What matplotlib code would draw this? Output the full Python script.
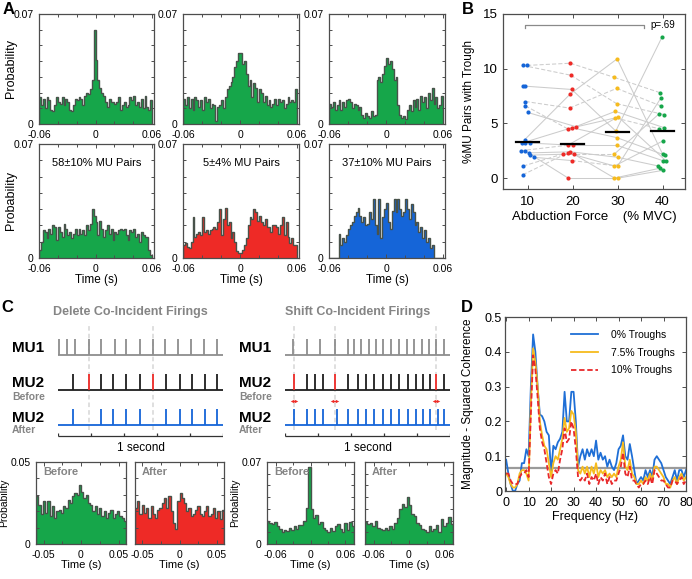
import matplotlib.pyplot as plt
import numpy as np

plt.rcParams['font.family'] = ['Liberation Sans', 'DejaVu Sans']
plt.rcParams['axes.unicode_minus'] = False

# ---------------- data ----------------
# panel A: cross-correlation histograms, probability x 1e-3, 60 bins over -0.06..0.06 s
a_top1 = [17, 12, 16, 10, 17, 15, 9, 8, 12, 17, 14, 13, 17, 12, 16, 14, 9, 8, 12, 16,
          15, 17, 16, 12, 18, 20, 19, 22, 28, 60, 41, 28, 23, 20, 18, 14, 11, 16, 14, 14,
          13, 14, 17, 9, 12, 14, 11, 12, 17, 15, 18, 12, 14, 11, 16, 10, 18, 11, 9, 15]
a_top2 = [16, 12, 17, 10, 16, 9, 17, 15, 11, 15, 9, 17, 14, 16, 10, 13, 12, 2, 11, 12,
          15, 10, 17, 22, 24, 27, 30, 36, 40, 45, 45, 38, 40, 32, 24, 28, 17, 26, 23, 14,
          22, 20, 14, 18, 12, 15, 11, 13, 16, 12, 16, 14, 15, 10, 13, 17, 14, 15, 14, 22]
a_top3 = [13, 11, 14, 9, 12, 15, 9, 14, 11, 15, 16, 14, 10, 13, 12, 9, 11, 6, 4, 7,
          5, 4, 8, 5, 6, 28, 30, 27, 32, 37, 42, 38, 40, 35, 28, 30, 12, 6, 4, 5,
          3, 9, 12, 8, 15, 11, 16, 9, 18, 14, 17, 10, 20, 15, 23, 13, 17, 10, 12, 18]
a_bot1 = [5, 10, 17, 16, 12, 18, 15, 20, 19, 11, 19, 16, 13, 21, 18, 14, 16, 12, 15, 18,
          14, 18, 15, 17, 14, 20, 17, 21, 30, 26, 22, 14, 23, 18, 13, 17, 20, 15, 18, 11,
          16, 15, 17, 18, 17, 18, 14, 11, 17, 16, 18, 13, 15, 10, 16, 14, 13, 13, 5, 2]
a_bot2 = [8, 9, 7, 6, 10, 25, 13, 15, 16, 14, 25, 16, 17, 15, 17, 18, 19, 18, 22, 30,
          14, 24, 31, 20, 22, 12, 16, 10, 4, 3, 3, 5, 8, 12, 20, 25, 24, 30, 28, 23,
          26, 22, 20, 24, 19, 19, 16, 20, 20, 19, 15, 20, 25, 14, 22, 13, 9, 12, 8, 8]
a_bot3 = [0, 0, 0, 0, 0, 15, 8, 12, 10, 14, 18, 20, 22, 26, 28, 31, 26, 22, 25, 20,
          21, 28, 24, 36, 20, 15, 36, 12, 25, 30, 34, 22, 18, 29, 36, 28, 36, 30, 26, 28,
          36, 30, 24, 33, 28, 20, 22, 16, 19, 12, 17, 10, 12, 6, 8, 0, 0, 0, 0, 0]
a_labels = ['58\u00b110% MU Pairs', '5\u00b14% MU Pairs', '37\u00b110% MU Pairs']

# panel B: % MU pairs with trough per subject, x = abduction force (with jitter)
b_blue_x = [8.9, 9.85, 8.9, 9.5, 9.5, 9.5, 10.0, 9.3, 8.7, 9.5, 10.5, 8.4, 9.3, 10.2, 10.5, 11.3, 9.0, 8.9]
b_blue_y = [10.3, 10.3, 8.4, 8.4, 7.0, 6.6, 6.0, 3.5, 3.2, 3.2, 3.2, 2.5, 2.5, 2.3, 2.1, 1.9, 1.1, 0.3]
b_red_x = [19.5, 19.6, 19.8, 19.5, 19.3, 18.9, 19.8, 20.7, 18.9, 20.0, 17.8, 18.9, 19.5, 20.2, 19.8, 19.0]
b_red_y = [10.5, 9.4, 8.1, 7.7, 6.4, 4.5, 4.6, 4.7, 3.0, 3.0, 2.2, 2.3, 2.4, 2.2, 1.6, 0.0]
b_yel_x = [29.9, 29.3, 29.8, 29.8, 29.5, 30.1, 29.5, 29.6, 29.8, 29.8, 29.3, 30.0, 29.3, 30.0, 29.3, 30.2]
b_yel_y = [10.9, 9.2, 8.2, 6.8, 6.1, 5.6, 5.5, 4.3, 3.7, 3.0, 2.2, 1.9, 1.1, 1.1, 0.0, 0.0]
b_grn_x = [39.9, 39.5, 39.6, 39.6, 39.3, 40.4, 39.3, 40.4, 40.1, 40.0, 40.5, 40.0, 40.7, 39.1, 39.4, 40.0]
b_grn_y = [12.9, 7.8, 7.3, 6.6, 5.9, 5.8, 4.5, 4.6, 3.4, 2.2, 2.1, 1.6, 1.6, 1.1, 0.9, 0.7]
# subject links between neighbouring forces: (index left, index right, dashed?)
b_links_12 = [(0, 1, 1), (1, 0, 1), (3, 2, 0), (4, 4, 1), (5, 5, 1), (6, 7, 0), (7, 3, 0), (8, 6, 0),
              (10, 9, 0), (11, 8, 1), (13, 12, 0), (14, 13, 0), (15, 14, 0), (16, 10, 1), (17, 11, 1), (12, 15, 0)]
b_links_23 = [(0, 1, 1), (1, 3, 1), (2, 7, 0), (3, 0, 0), (4, 2, 1), (5, 6, 0), (6, 8, 0), (7, 4, 0),
              (8, 5, 0), (9, 9, 0), (10, 10, 1), (11, 12, 0), (12, 11, 0), (13, 14, 0), (14, 13, 1), (15, 15, 0)]
b_links_34 = [(0, 9, 0), (1, 1, 1), (2, 3, 1), (3, 5, 1), (4, 7, 0), (5, 12, 0), (6, 6, 1), (7, 0, 0),
              (8, 10, 0), (9, 11, 0), (10, 4, 0), (11, 13, 0), (12, 8, 0), (13, 2, 0), (14, 14, 0), (15, 15, 0)]
b_forces = [10, 20, 30, 40]
b_means = [3.3, 3.1, 4.2, 4.3]
b_pval = 'p=.69'

# panel C: spike trains (times in s within a 1 s window)
del_mu1 = [0.006, 0.055, 0.101, 0.188, 0.263, 0.343, 0.414, 0.495, 0.576, 0.651, 0.727, 0.808, 0.883, 0.964]
del_mu2 = [0.091, 0.188, 0.263, 0.333, 0.41, 0.495, 0.576, 0.657, 0.737, 0.814, 0.889, 0.964]
del_coinc = [0.188, 0.576]
shf_mu1 = [0.051, 0.131, 0.212, 0.3, 0.38, 0.42, 0.461, 0.507, 0.552, 0.592, 0.642, 0.689, 0.737, 0.784,
           0.83, 0.875, 0.915, 0.966]
shf_mu2 = [0.055, 0.131, 0.182, 0.232, 0.3, 0.38, 0.44, 0.491, 0.541, 0.592, 0.642, 0.693, 0.743, 0.794,
           0.838, 0.879, 0.915, 0.966]
shf_coinc = [0.055, 0.3, 0.915]
shf_after = [0.055, 0.135, 0.182, 0.232, 0.313, 0.38, 0.44, 0.491, 0.541, 0.592, 0.642, 0.693, 0.743, 0.794,
             0.838, 0.879, 0.929, 0.966]

# panel C histograms (probability x 1e-3)
c_del_before = [29, 24, 18, 26, 19, 26, 17, 23, 16, 20, 21, 19, 23, 22, 27, 25, 29, 31, 30, 36,
                32, 28, 30, 25, 24, 20, 23, 18, 22, 17, 20, 16, 19, 21, 16, 18, 20, 17, 16, 14]
c_del_after = [22, 26, 18, 24, 19, 22, 16, 23, 18, 16, 21, 22, 25, 28, 22, 29, 20, 13, 9, 26,
               31, 28, 25, 20, 22, 17, 18, 21, 23, 18, 17, 20, 23, 17, 18, 22, 16, 20, 15, 21]
c_shf_before = [20, 18, 17, 19, 15, 13, 10, 12, 11, 14, 12, 15, 13, 16, 16, 20, 31, 66,
                30, 22, 25, 17, 19, 14, 12, 10, 14, 11, 15, 17, 13, 10, 18, 12, 19, 15]
c_shf_after = [19, 17, 18, 15, 20, 14, 13, 12, 14, 12, 15, 13, 18, 22, 30, 34, 32, 40,
               33, 26, 24, 18, 16, 13, 12, 10, 15, 11, 13, 16, 10, 21, 15, 18, 23, 17]

# panel D: magnitude-squared coherence, 0..80 Hz
d_freq = list(range(81))
d_0 = [0.09, 0.05, 0.02, 0.0, 0.0, 0.02, 0.03, 0.08, 0.08, 0.12, 0.1, 0.3, 0.45, 0.4, 0.3, 0.22, 0.215,
       0.2, 0.17, 0.16, 0.05, 0.13, 0.12, 0.14, 0.15, 0.17, 0.285, 0.2, 0.2, 0.285, 0.285, 0.2, 0.07,
       0.1, 0.12, 0.09, 0.12, 0.1, 0.12, 0.1, 0.145, 0.09, 0.11, 0.09, 0.1, 0.07, 0.09, 0.07, 0.06,
       0.08, 0.12, 0.13, 0.16, 0.1, 0.09, 0.135, 0.1, 0.06, 0.02, 0.03, 0.04, 0.03, 0.06, 0.04, 0.06,
       0.04, 0.09, 0.1, 0.09, 0.08, 0.06, 0.04, 0.03, 0.02, 0.04, 0.06, 0.03, 0.06, 0.06, 0.04, 0.06]
d_75 = [0.05, 0.04, 0.02, 0.01, 0.01, 0.02, 0.05, 0.06, 0.06, 0.05, 0.03, 0.25, 0.41, 0.37, 0.3, 0.2,
        0.16, 0.13, 0.12, 0.08, 0.04, 0.08, 0.1, 0.09, 0.12, 0.15, 0.21, 0.17, 0.18, 0.23, 0.22, 0.17,
        0.06, 0.05, 0.07, 0.05, 0.07, 0.04, 0.07, 0.05, 0.08, 0.04, 0.06, 0.05, 0.06, 0.04, 0.05, 0.04,
        0.05, 0.04, 0.07, 0.09, 0.14, 0.07, 0.06, 0.09, 0.05, 0.04, 0.02, 0.02, 0.03, 0.02, 0.04, 0.03,
        0.05, 0.03, 0.07, 0.07, 0.06, 0.05, 0.04, 0.02, 0.02, 0.01, 0.03, 0.04, 0.02, 0.04, 0.05, 0.03, 0.04]
d_10 = [0.05, 0.05, 0.03, 0.02, 0.02, 0.02, 0.04, 0.05, 0.05, 0.06, 0.04, 0.22, 0.39, 0.35, 0.27, 0.18,
        0.14, 0.12, 0.08, 0.04, 0.02, 0.05, 0.06, 0.05, 0.09, 0.12, 0.18, 0.14, 0.15, 0.2, 0.18, 0.12,
        0.04, 0.03, 0.04, 0.03, 0.05, 0.02, 0.04, 0.03, 0.05, 0.02, 0.04, 0.03, 0.05, 0.02, 0.04, 0.02,
        0.03, 0.03, 0.05, 0.07, 0.11, 0.05, 0.04, 0.07, 0.03, 0.03, 0.02, 0.01, 0.02, 0.02, 0.03, 0.02,
        0.04, 0.02, 0.06, 0.05, 0.04, 0.03, 0.03, 0.02, 0.01, 0.01, 0.03, 0.03, 0.02, 0.03, 0.04, 0.02, 0.03]
d_sig = 0.065
d_names = ['0% Troughs', '7.5% Troughs', '10% Troughs']

# ---------------- figure ----------------
GREEN, RED, BLUE, YEL = '#16a64a', '#ee2a26', '#1565d8', '#f6bb1e'
EDGE = '#48524a'
SPINE = '#4d4d4d'
GREYTXT = '#858585'

W, H = 692, 579
fig = plt.figure(figsize=(W / 100, H / 100), dpi=100)


def ax_at(l, t, r, b):
    return fig.add_axes([l / W, 1 - b / H, (r - l) / W, (b - t) / H])


def box(ax, size=7.5, xpad=4, ypad=3.5):
    for s in ax.spines.values():
        s.set_color(SPINE)
        s.set_linewidth(0.9)
    ax.tick_params(which='both', direction='in', top=True, right=True, color=SPINE,
                   length=3, width=0.7, labelsize=size)
    ax.tick_params(which='minor', length=2.5)
    ax.tick_params(axis='x', pad=xpad)
    ax.tick_params(axis='y', pad=ypad)


def hist(ax, vals, lo, hi, fc):
    v = np.array(vals) * 1e-3
    edges = np.linspace(lo, hi, len(v) + 1)
    ax.stairs(v, edges, fill=True, color=fc, lw=0)
    ax.stairs(v, edges, color=EDGE, lw=1.0)


# ---- panel A ----
a_cols = [(39, 154), (183, 299), (329, 445)]
tops = [a_top1, a_top2, a_top3]
bots = [a_bot1, a_bot2, a_bot3]
bot_colors = [GREEN, RED, BLUE]
for i, (l, r) in enumerate(a_cols):
    for row, (t, b) in enumerate([(14, 124), (144, 258)]):
        ax = ax_at(l, t, r, b)
        if row == 0:
            hist(ax, tops[i], -0.06, 0.06, GREEN)
        else:
            hist(ax, bots[i], -0.06, 0.06, bot_colors[i])
            ax.text(0.5, 0.83, a_labels[i], transform=ax.transAxes, ha='center', va='center',
                    fontsize=8)
            ax.set_xlabel('Time (s)', fontsize=8.5, labelpad=0)
        ax.set_xlim(-0.06, 0.062)
        ax.set_ylim(0, 0.07)
        ax.set_xticks([-0.06, 0, 0.06])
        ax.set_xticklabels(['-0.06', '0', '0.06'])
        ax.set_xticks([-0.04, -0.02, 0.02, 0.04], minor=True)
        ax.set_yticks([0, 0.07])
        ax.set_yticklabels(['0', '0.07'])
        ax.set_yticks([0.01, 0.02, 0.03, 0.04, 0.05, 0.06], minor=True)
        box(ax, xpad=4.5, ypad=4)
        if i == 0:
            ax.set_ylabel('Probability', fontsize=9)
            ax.yaxis.set_label_coords(-0.19, 0.5)

# ---- panel B ----
ax = ax_at(503, 14, 685, 189)
groups = [(b_blue_x, b_blue_y), (b_red_x, b_red_y), (b_yel_x, b_yel_y), (b_grn_x, b_grn_y)]
for g, links in enumerate([b_links_12, b_links_23, b_links_34]):
    (x0, y0), (x1, y1) = groups[g], groups[g + 1]
    for i0, i1, dashed in links:
        ax.plot([x0[i0], x1[i1]], [y0[i0], y1[i1]], color='#cccccc', lw=0.75,
                ls=(0, (4, 2)) if dashed else '-', zorder=1)
for (gx, gy), c in zip(groups, [BLUE, RED, YEL, GREEN]):
    ax.scatter(gx, gy, s=9, color=c, zorder=3, linewidths=0)
for f, m in zip(b_forces, b_means):
    ax.plot([f - 2.5, f + 2.5], [m, m], color='black', lw=1.6, zorder=4)
ax.plot([9.4, 9.4, 35.9, 35.9], [13.7, 14.0, 14.0, 13.7], color='#8a8a8a', lw=0.9)
ax.text(37.4, 14.0, b_pval, fontsize=7, va='center', ha='left')
ax.set_xlim(4.5, 45)
ax.set_ylim(-1, 15)
ax.set_xticks(b_forces)
ax.set_yticks([0, 5, 10, 15])
box(ax, size=9.5, xpad=5, ypad=4)
ax.set_xlabel('Abduction Force    (% MVC)', fontsize=9.5, labelpad=2)
ax.set_ylabel('%MU Pairs with Trough', fontsize=8.5)
ax.yaxis.set_label_coords(-0.155, 0.5)


# ---- panel C: spike train diagrams ----
def raster(ax, mu1, mu2, coinc, after, title, arrows=None):
    h = 0.46
    rows = [(3, mu1, '#8e8e8e'), (2, mu2, '#1e1e1e'), (1, after, BLUE)]
    for y, times, c in rows:
        ax.hlines(y, 0, 1, color=c, lw=1.3)
        cols = [RED if (y == 2 and t in coinc) else c for t in times]
        ax.vlines(times, y, y + h, colors=cols, lw=1.3)
    ax.vlines(coinc, 0.86, 3.91, colors='#d6d6d6', lw=1.1, linestyles=(0, (3, 2)), zorder=0)
    ax.hlines(0.67, 0, 1, color='#333333', lw=0.9)
    ax.vlines(np.linspace(0, 1, 6), 0.67, 0.77, color='#333333', lw=0.9)
    ax.text(0.5, 0.34, '1 second', ha='center', va='center', fontsize=8.5)
    ax.text(0.44, 4.23, title, ha='center', va='center', fontsize=9, fontweight='bold', color=GREYTXT)
    for y, lab in [(3, 'MU1'), (2, 'MU2'), (1, 'MU2')]:
        ax.text(-0.28, y + 0.2, lab, fontsize=11, fontweight='bold', va='center', ha='left')
    ax.text(-0.28, 1.8, 'Before', fontsize=7.5, fontweight='bold', color=GREYTXT, va='center')
    ax.text(-0.28, 0.86, 'After', fontsize=7.5, fontweight='bold', color=GREYTXT, va='center')
    if arrows:
        for t in arrows:
            ax.plot([t - 0.012, t + 0.012], [1.69, 1.69], color=RED, lw=0.8)
            ax.plot([t - 0.014], [1.69], marker='<', ms=2.5, color=RED, mew=0)
            ax.plot([t + 0.014], [1.69], marker='>', ms=2.5, color=RED, mew=0)
    ax.set_xlim(0, 1)
    ax.set_ylim(0.14, 4.57)
    ax.axis('off')


ax = ax_at(58, 300, 223, 455)
del_after = [t for t in del_mu2 if t not in del_coinc]
raster(ax, del_mu1, del_mu2, del_coinc, del_after, 'Delete Co-Incident Firings')
ax = ax_at(285, 300, 450, 455)
raster(ax, shf_mu1, shf_mu2, shf_coinc, shf_after, 'Shift Co-Incident Firings', arrows=shf_coinc)

# ---- panel C: histograms ----
c_specs = [
    ((36, 126), c_del_before, GREEN, 'Before', 0.06, 0.05, True),
    ((135, 224), c_del_after, RED, 'After', 0.06, 0.05, False),
    ((267, 354), c_shf_before, GREEN, 'Before', 0.075, 0.07, True),
    ((365, 453), c_shf_after, GREEN, 'After', 0.075, 0.07, False),
]
for (l, r), vals, col, lab, xl, ytop, first in c_specs:
    ax = ax_at(l, 462, r, 544)
    hist(ax, vals, -xl, xl, col)
    ax.set_xlim(-xl, xl)
    ax.set_ylim(0, ytop)
    if xl < 0.07:
        ax.set_xticks([-0.05, 0, 0.05])
        ax.set_xticklabels(['-0.05', '0', '0.05'])
        ax.set_xticks([-0.025, 0.025], minor=True)
        ax.set_yticks([0, 0.05])
        ax.set_yticklabels(['0', '0.05'] if first else ['', ''])
    else:
        ax.set_xticks([-0.06, 0, 0.06])
        ax.set_xticklabels(['-0.06', '0', '0.06'])
        ax.set_xticks([-0.03, 0.03], minor=True)
        ax.set_yticks([0, 0.07])
        ax.set_yticklabels(['0', '0.07'] if first else ['', ''])
    ax.set_yticks(np.arange(0.01, ytop, 0.01), minor=True)
    box(ax, size=7.5, xpad=4.5, ypad=4)
    ax.text(0.08, 0.88, lab, transform=ax.transAxes, fontsize=8, fontweight='bold',
            color=GREYTXT, va='center')
    ax.set_xlabel('Time (s)', fontsize=8, labelpad=0)
    if first:
        ax.set_ylabel('Probability', fontsize=7.5, labelpad=1)

# ---- panel D ----
ax = ax_at(505, 317, 686, 491)
ax.axhline(d_sig, color='#9a9a9a', lw=1.6, zorder=1)
ax.plot(d_freq, d_0, color='#1f6fd6', lw=1.3, label=d_names[0])
ax.plot(d_freq, d_75, color=YEL, lw=1.3, label=d_names[1])
ax.plot(d_freq, d_10, color='#e8282a', lw=1.3, ls=(0, (3, 1.5)), label=d_names[2])
ax.set_xlim(-0.5, 80)
ax.set_ylim(0, 0.5)
ax.set_xticks(range(0, 81, 10))
ax.set_yticks([0, 0.1, 0.2, 0.3, 0.4, 0.5])
ax.set_yticklabels(['0', '0.1', '0.2', '0.3', '0.4', '0.5'])
box(ax, size=9, xpad=4, ypad=2)
ax.set_xlabel('Frequency (Hz)', fontsize=9, labelpad=2)
ax.set_ylabel('Magnitude - Squared Coherence', fontsize=8.5)
ax.yaxis.set_label_coords(-0.17, 0.5)
ax.legend(loc='upper right', bbox_to_anchor=(0.99, 0.98), frameon=False, fontsize=7.5,
          handlelength=2.6, labelspacing=0.75, handletextpad=1.2)

# ---- panel letters ----
for lab, x, y in [('A', 3, 10), ('B', 462, 10), ('C', 1, 307), ('D', 461, 308)]:
    fig.text(x / W, 1 - y / H, lab, fontsize=12, fontweight='bold', va='center', ha='left')

fig.savefig('out.png', dpi=100)
